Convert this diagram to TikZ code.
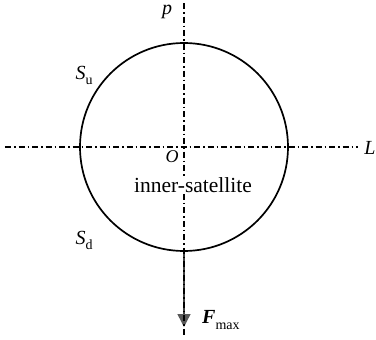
\documentclass[tikz,border=0pt]{standalone}
\usepackage{fontspec}
\setmainfont{Liberation Serif}
\usetikzlibrary{arrows.meta}
\tikzset{
  axisline/.style={line width=1.4pt, dash pattern=on 6pt off 3pt on 1.5pt off 3pt},
  lbl/.style={inner sep=0pt, font=\fontsize{20}{24}\selectfont},
  forcearrow/.style={line width=1.4pt, draw=black!75, -{Triangle[length=13pt,width=13pt,color=black!65,fill=black!65]}}
}
\begin{document}
\begin{tikzpicture}[x=1pt,y=-1pt]
\useasboundingbox (0,0) rectangle (376,340);
\node[circle, draw, line width=1.7pt, minimum size=208pt, inner sep=0pt] (sat) at (184,147) {};
\coordinate (O) at (184,147);
\coordinate (ptop) at (184,3);
\coordinate (pbot) at (184,336);
\coordinate (lleft) at (5,147);
\coordinate (lright) at (358,147);
\coordinate (ftip) at (184,327);
\draw[forcearrow] (sat.south) -- (ftip);
\node[lbl, font=\fontsize{21.5}{24}\selectfont, fill=white, inner sep=1pt] (txt) at (193,185) {inner-satellite};
\coordinate (tn) at (txt.north -| O);
\coordinate (ts) at (txt.south -| O);
\draw[axisline] (lleft) -- (lright);
\draw[axisline] (ptop) -- (tn);
\draw[axisline] (ts) -- (pbot);
\node[lbl] (pl) at (167,12) {\itshape p};
\node[lbl] (ll) at (370,148) {\itshape L};
\node[lbl, font=\fontsize{18}{20}\selectfont] (ol) at (172,157) {\itshape O};
\node[lbl] (su) at (84,75) {\itshape S\raisebox{-0.25em}{\fontsize{14}{14}\selectfont\upshape u}};
\node[lbl] (sd) at (84,240) {\itshape S\raisebox{-0.25em}{\fontsize{14}{14}\selectfont\upshape d}};
\node[lbl, anchor=west] (fl) at (202,320) {\bfseries\itshape F\raisebox{-0.3em}{\fontsize{14}{14}\selectfont\mdseries\upshape max}};
\end{tikzpicture}
\end{document}
